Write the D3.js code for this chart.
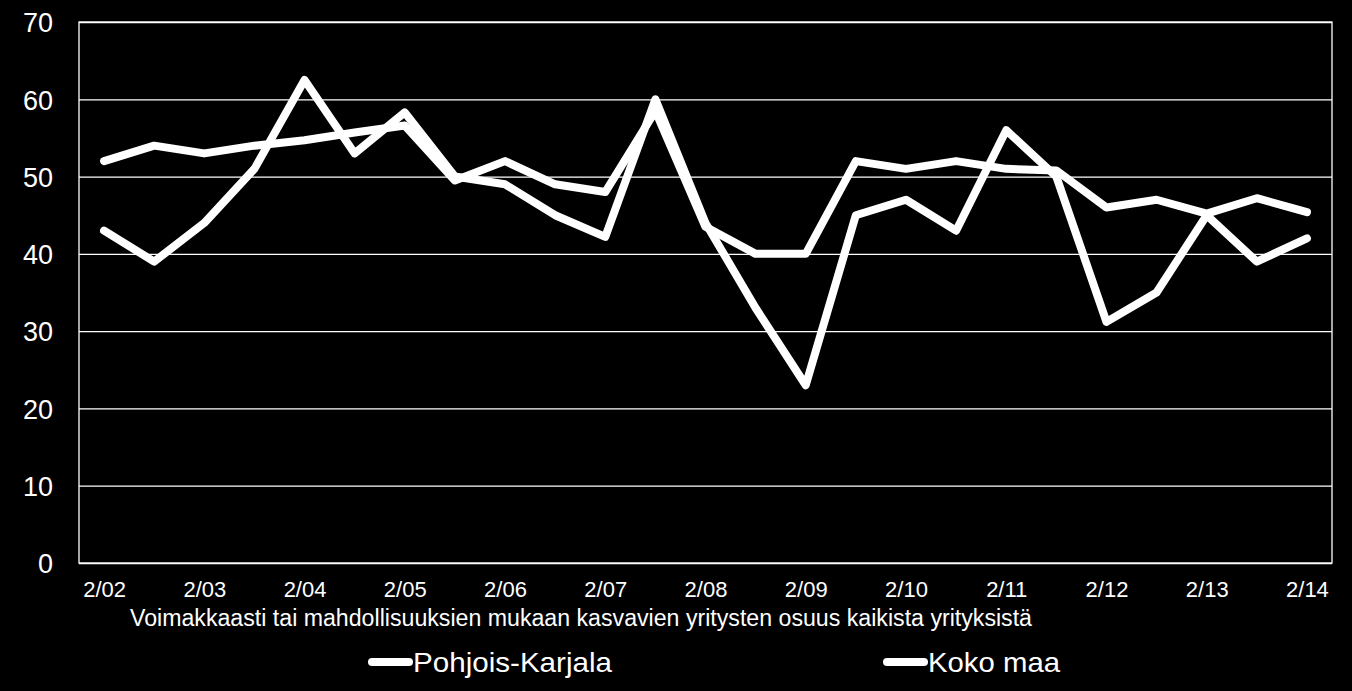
<!DOCTYPE html>
<html>
<head>
<meta charset="utf-8">
<script src="https://cdn.jsdelivr.net/npm/d3@7"></script>
<style>
  html, body { margin: 0; padding: 0; background: #000; }
  svg { display: block; }
</style>
</head>
<body>
<svg id="chart" width="1352" height="691"></svg>
<script>
// ---- data ----
const categories = ["2/02","8/02","2/03","8/03","2/04","8/04","2/05","8/05","2/06","8/06","2/07","8/07",
                    "2/08","8/08","2/09","8/09","2/10","8/10","2/11","8/11","2/12","8/12","2/13","8/13","2/14"];
const tickLabels = ["2/02","2/03","2/04","2/05","2/06","2/07","2/08","2/09","2/10","2/11","2/12","2/13","2/14"];
const yTicks = [0, 10, 20, 30, 40, 50, 60, 70];
const pohjoisKarjala = [43, 39, 44, 51, 62.5, 53, 58.3, 50, 49, 45, 42.2, 60, 44, 33, 23, 45, 47, 43, 56, 50, 31.2, 35, 45, 39, 42];
const kokoMaa        = [52, 54, 53, 54, 54.7, 55.7, 56.6, 49.5, 52, 49, 48, 58.5, 43.5, 40, 40, 52, 51, 52, 51, 50.8, 46, 47, 45.2, 47.2, 45.4];
const seriesNames = ["Pohjois-Karjala", "Koko maa"];
const title = "Voimakkaasti tai mahdollisuuksien mukaan kasvavien yritysten osuus kaikista yrityksistä";

// ---- layout ----
const svg = d3.select("#chart");
const L = 79, R = 1332, T = 22, B = 563;
const narrow = "'Liberation Sans Narrow', 'Liberation Sans', 'DejaVu Sans', sans-serif";
const regular = "'Liberation Sans', 'DejaVu Sans', sans-serif";

svg.append("rect").attr("width", 1352).attr("height", 691).attr("fill", "#000");

const x = d3.scalePoint().domain(categories).range([L, R]).padding(0.5);
const y = d3.scaleLinear().domain([0, 70]).range([B, T]);

// gridlines
const yAxis = d3.axisLeft(y).tickValues(yTicks).tickSize(-(R - L)).tickFormat(d => d).tickPadding(26);
const gy = svg.append("g").attr("transform", `translate(${L},0)`).call(yAxis);
gy.select(".domain").remove();
gy.selectAll(".tick line").attr("stroke", "#fff").attr("stroke-width", 1.3);
gy.selectAll(".tick text").attr("fill", "#fff").attr("font-family", regular)
  .attr("font-size", 27).attr("dy", "0.36em");

// plot border
svg.append("rect").attr("x", L).attr("y", T).attr("width", R - L).attr("height", B - T)
  .attr("fill", "none").attr("stroke", "#fff").attr("stroke-width", 1.3);

// x axis
const xAxis = d3.axisBottom(x).tickValues(tickLabels).tickSize(0).tickPadding(18);
const gx = svg.append("g").attr("transform", `translate(0,${B})`).call(xAxis);
gx.select(".domain").remove();
gx.selectAll(".tick text").attr("fill", "#fff").attr("font-family", narrow).attr("font-size", 22);

// lines
const line = d3.line().x((d, i) => x(categories[i])).y(d => y(d));
[pohjoisKarjala, kokoMaa].forEach(s => {
  svg.append("path").datum(s).attr("d", line)
    .attr("fill", "none").attr("stroke", "#fff").attr("stroke-width", 8)
    .attr("stroke-linejoin", "round").attr("stroke-linecap", "round");
});

// title
svg.append("text").attr("x", 130).attr("y", 626).attr("fill", "#fff")
  .attr("font-family", narrow).attr("font-size", 23)
  .attr("textLength", 902).attr("lengthAdjust", "spacingAndGlyphs").text(title);

// legend
const legendPos = [{lx: 368, tw: 199}, {lx: 883, tw: 132}];
seriesNames.forEach((name, i) => {
  const p = legendPos[i];
  svg.append("line").attr("x1", p.lx + 4).attr("x2", p.lx + 41).attr("y1", 662).attr("y2", 662)
    .attr("stroke", "#fff").attr("stroke-width", 8).attr("stroke-linecap", "round");
  svg.append("text").attr("x", p.lx + 45).attr("y", 672).attr("fill", "#fff")
    .attr("font-family", narrow).attr("font-size", 28)
    .attr("textLength", p.tw).attr("lengthAdjust", "spacingAndGlyphs").text(name);
});
</script>
</body>
</html>
